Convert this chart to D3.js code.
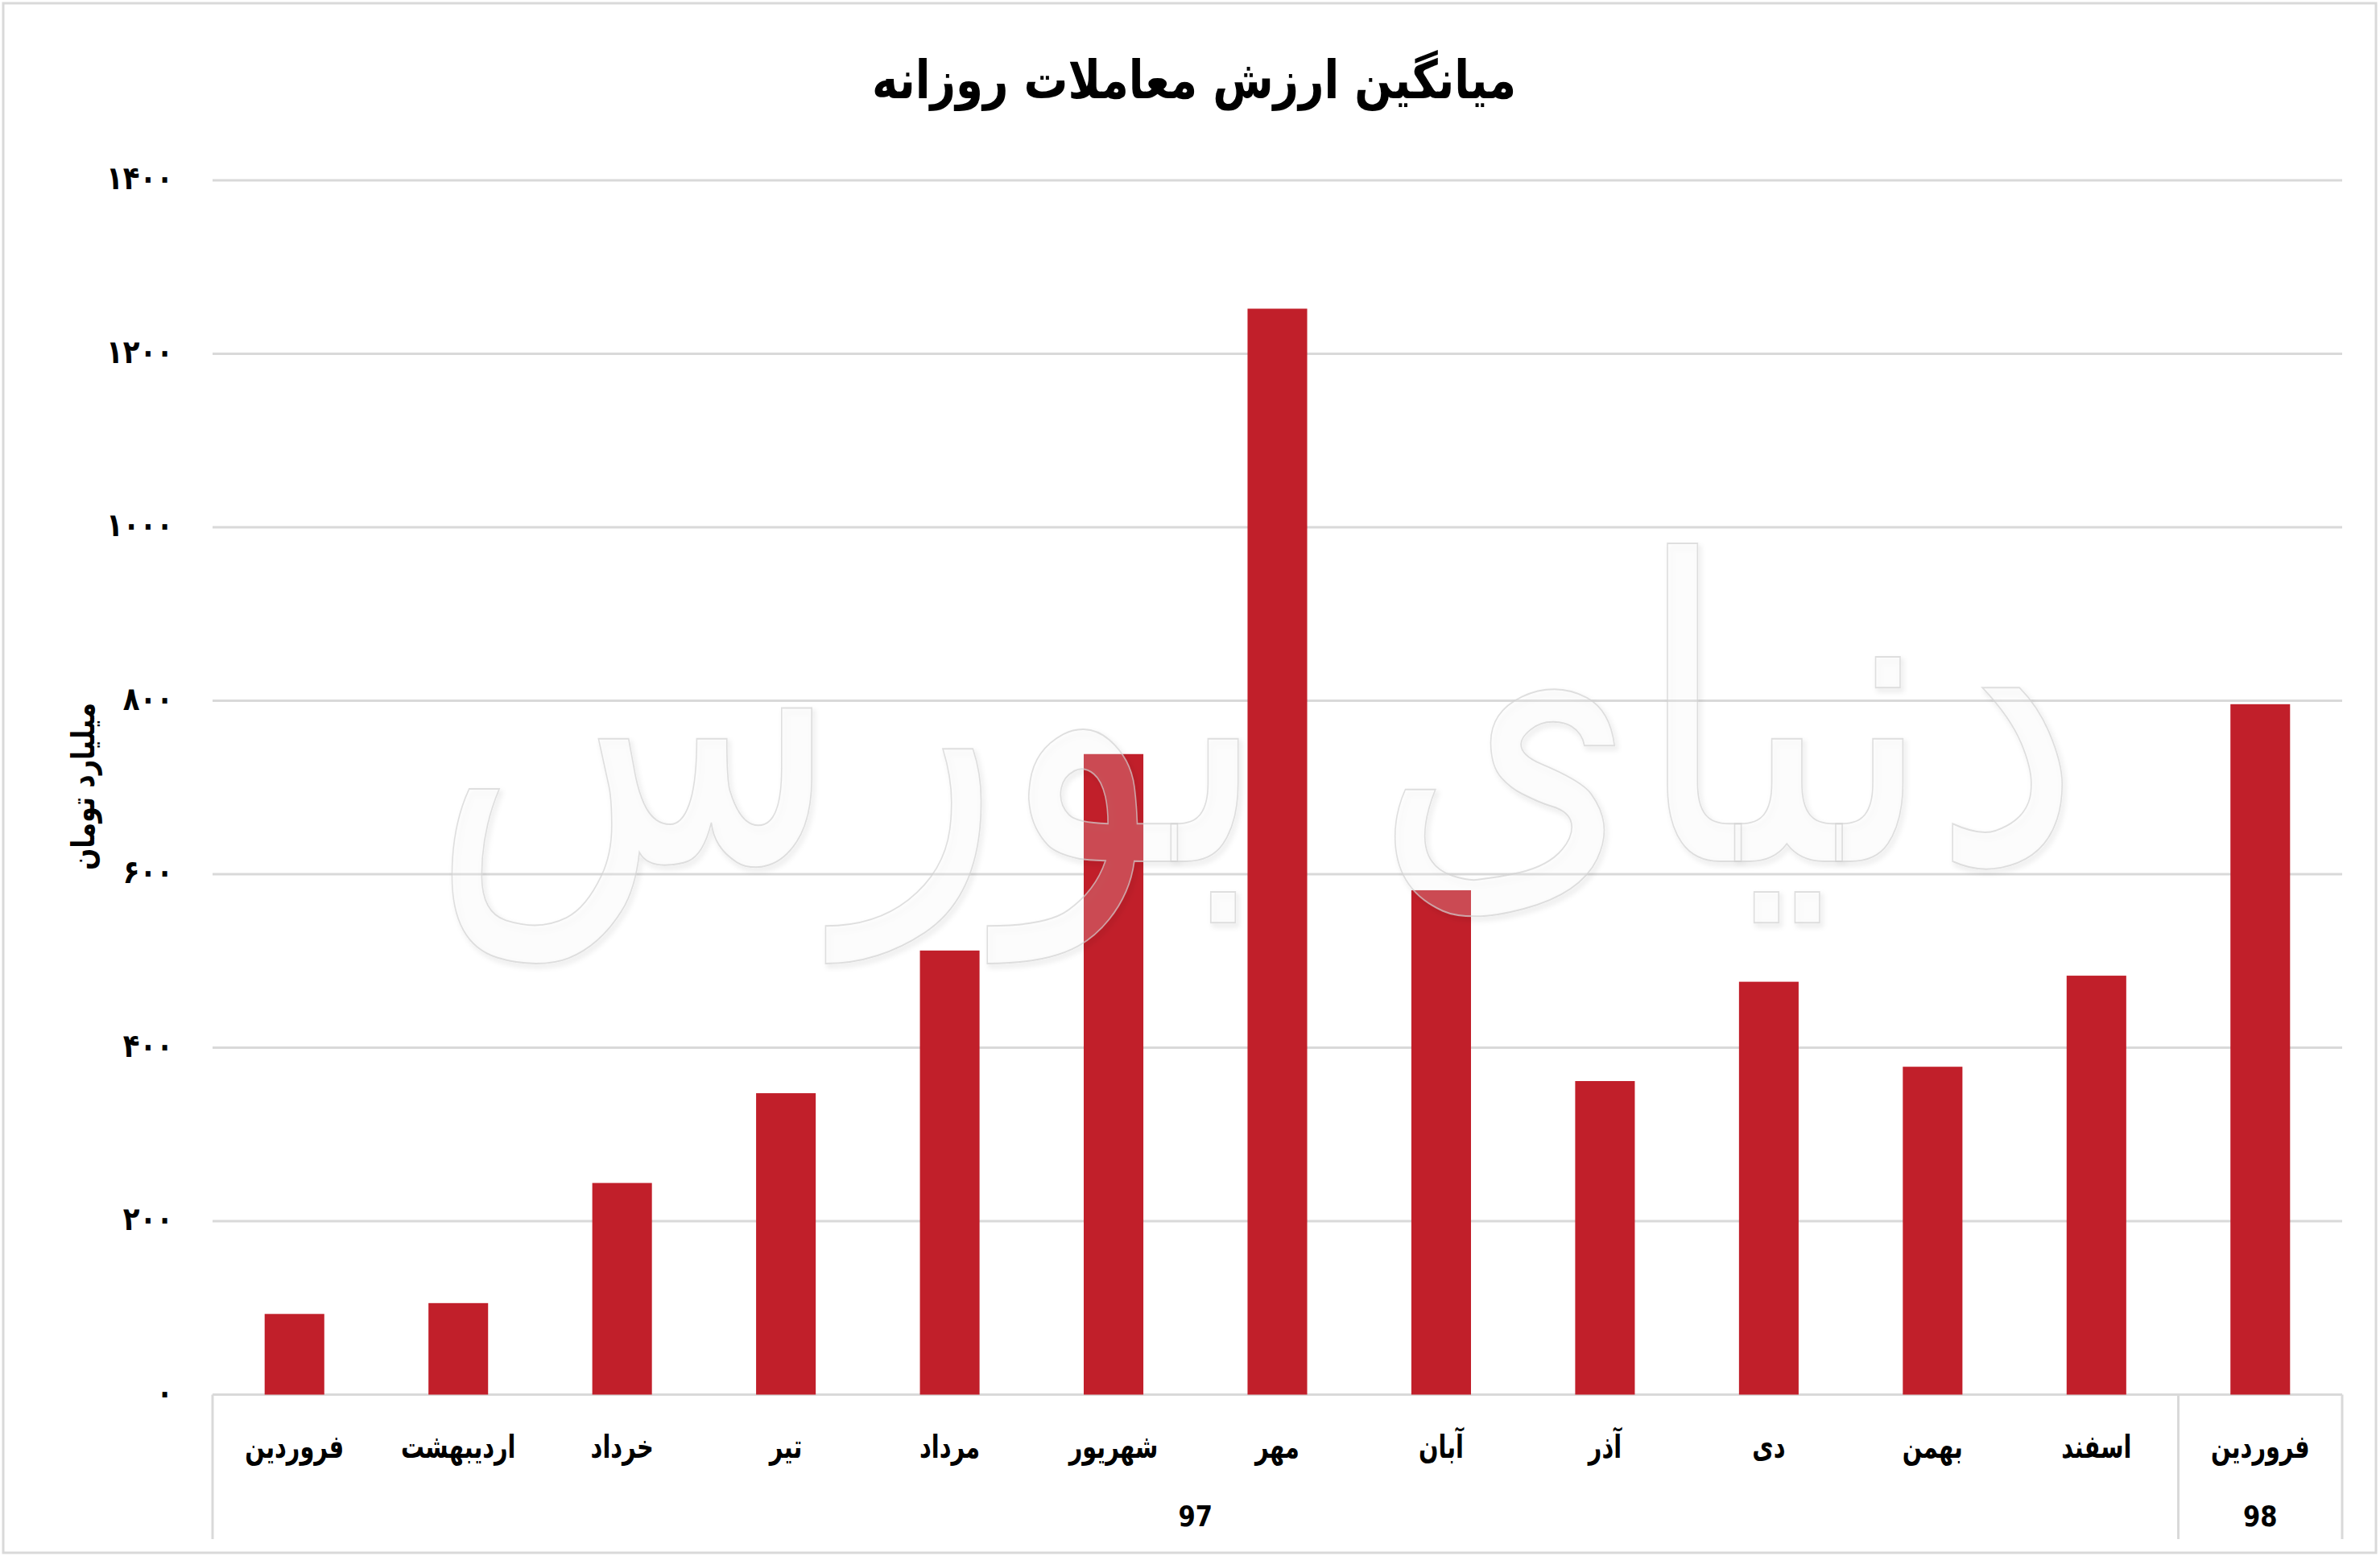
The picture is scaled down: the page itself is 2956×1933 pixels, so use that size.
<!DOCTYPE html>
<html>
<head>
<meta charset="utf-8">
<script src="https://cdn.jsdelivr.net/npm/d3@7"></script>
<style>
  html, body { margin: 0; padding: 0; background: #ffffff; }
  svg { display: block; }
  text { font-family: "DejaVu Sans", "Noto Sans", sans-serif; font-weight: bold; }
</style>
</head>
<body>
<svg id="chart" width="2956" height="1933"></svg>
<script>
// ---- data ----
const months = ["فروردین", "اردیبهشت", "خرداد", "تیر", "مرداد", "شهریور", "مهر", "آبان", "آذر", "دی", "بهمن", "اسفند", "فروردین"];
const values = [93, 105.5, 244, 347.5, 512, 738.5, 1252, 581.5, 361.5, 476, 378, 483, 796];
const yearLabels = ["97", "98"];
const yearSpans = [12, 1];
const yTicks = [0, 200, 400, 600, 800, 1000, 1200, 1400];
const title = "میانگین ارزش معاملات روزانه";
const yTitle = "میلیارد تومان";
const watermark = "دنیای بورس";

// ---- helpers ----
const faDigits = "۰۱۲۳۴۵۶۷۸۹";
const toFa = s => String(s).replace(/[0-9]/g, d => faDigits[+d]);
// condense text horizontally to imitate the narrow bold Persian face
function condense(sel, k) {
  sel.each(function () {
    const len = this.getComputedTextLength();
    d3.select(this).attr("textLength", len * k).attr("lengthAdjust", "spacingAndGlyphs");
  });
}

const W = 2956, H = 1933;
const svg = d3.select("#chart");
const m = { left: 264, right: 2909, top: 224, bottom: 1732.5 };

const idx = d3.range(months.length);
const x = d3.scaleBand().domain(idx).range([m.left, m.right]).paddingInner(0.636).paddingOuter(0.318);
const y = d3.scaleLinear().domain([0, 1400]).range([m.bottom, m.top]);

// outer frame
svg.append("rect").attr("x", 4).attr("y", 4).attr("width", W - 9).attr("height", H - 8)
  .attr("fill", "#fff").attr("stroke", "#d9d9d9").attr("stroke-width", 3);

// gridlines
svg.append("g").selectAll("line").data(yTicks).join("line")
  .attr("x1", m.left).attr("x2", m.right)
  .attr("y1", d => y(d)).attr("y2", d => y(d))
  .attr("stroke", "#d9d9d9").attr("stroke-width", 3);

// y tick labels
svg.append("g").selectAll("text").data(yTicks).join("text")
  .attr("x", 215).attr("y", d => y(d))
  .attr("text-anchor", "end").attr("dominant-baseline", "middle")
  .attr("font-size", 40).attr("fill", "#000")
  .text(d => toFa(d))
  .call(condense, 0.85);

// bars
svg.append("g").selectAll("rect").data(values).join("rect")
  .attr("x", (d, i) => x(i)).attr("width", x.bandwidth())
  .attr("y", d => y(d)).attr("height", d => y(0) - y(d))
  .attr("fill", "#c11f2a");

// category axis frame
const step = x.step();
const bottomY = 1912;
let acc = 0;
const seps = [m.left];
yearSpans.forEach(s => { acc += s; seps.push(m.left + acc * step); });
svg.append("g").selectAll("line").data(seps).join("line")
  .attr("x1", d => d).attr("x2", d => d)
  .attr("y1", y(0)).attr("y2", bottomY)
  .attr("stroke", "#d9d9d9").attr("stroke-width", 3);

// month labels
svg.append("g").selectAll("text").data(months).join("text")
  .attr("x", (d, i) => x(i) + x.bandwidth() / 2).attr("y", 1800)
  .attr("text-anchor", "middle").attr("dominant-baseline", "middle")
  .attr("font-size", 40).attr("fill", "#000")
  .text(d => d)
  .call(condense, 0.72);

// year labels
svg.append("g").selectAll("text").data(yearLabels).join("text")
  .attr("x", (d, i) => (seps[i] + seps[i + 1]) / 2).attr("y", 1886)
  .attr("text-anchor", "middle").attr("dominant-baseline", "middle")
  .attr("font-size", 36).attr("fill", "#000")
  .text(d => d)
  .call(condense, 0.85);

// y axis title
svg.append("text")
  .attr("transform", "translate(106,977) rotate(-90)")
  .attr("text-anchor", "middle").attr("dominant-baseline", "middle")
  .attr("font-size", 40).attr("fill", "#000")
  .text(yTitle)
  .call(condense, 0.8);

// chart title
svg.append("text")
  .attr("x", 1483).attr("y", 122)
  .attr("text-anchor", "middle")
  .attr("font-size", 66).attr("fill", "#000")
  .attr("textLength", 800).attr("lengthAdjust", "spacingAndGlyphs")
  .text(title);

// faint watermark
const defs = svg.append("defs");
const f = defs.append("filter").attr("id", "sh").attr("x", "-10%").attr("y", "-10%").attr("width", "120%").attr("height", "120%");
f.append("feDropShadow").attr("dx", 3).attr("dy", 4).attr("stdDeviation", 3).attr("flood-color", "#000").attr("flood-opacity", 0.2);
svg.append("text")
  .attr("x", 1560).attr("y", 1070)
  .attr("text-anchor", "middle")
  .attr("font-size", 520)
  .attr("textLength", 2050).attr("lengthAdjust", "spacingAndGlyphs")
  .attr("fill", "#ffffff").attr("fill-opacity", 0.18)
  .attr("stroke", "#d2d2d2").attr("stroke-width", 2).attr("stroke-opacity", 0.7)
  .attr("filter", "url(#sh)")
  .style("font-weight", "normal")
  .text(watermark);
</script>
</body>
</html>
